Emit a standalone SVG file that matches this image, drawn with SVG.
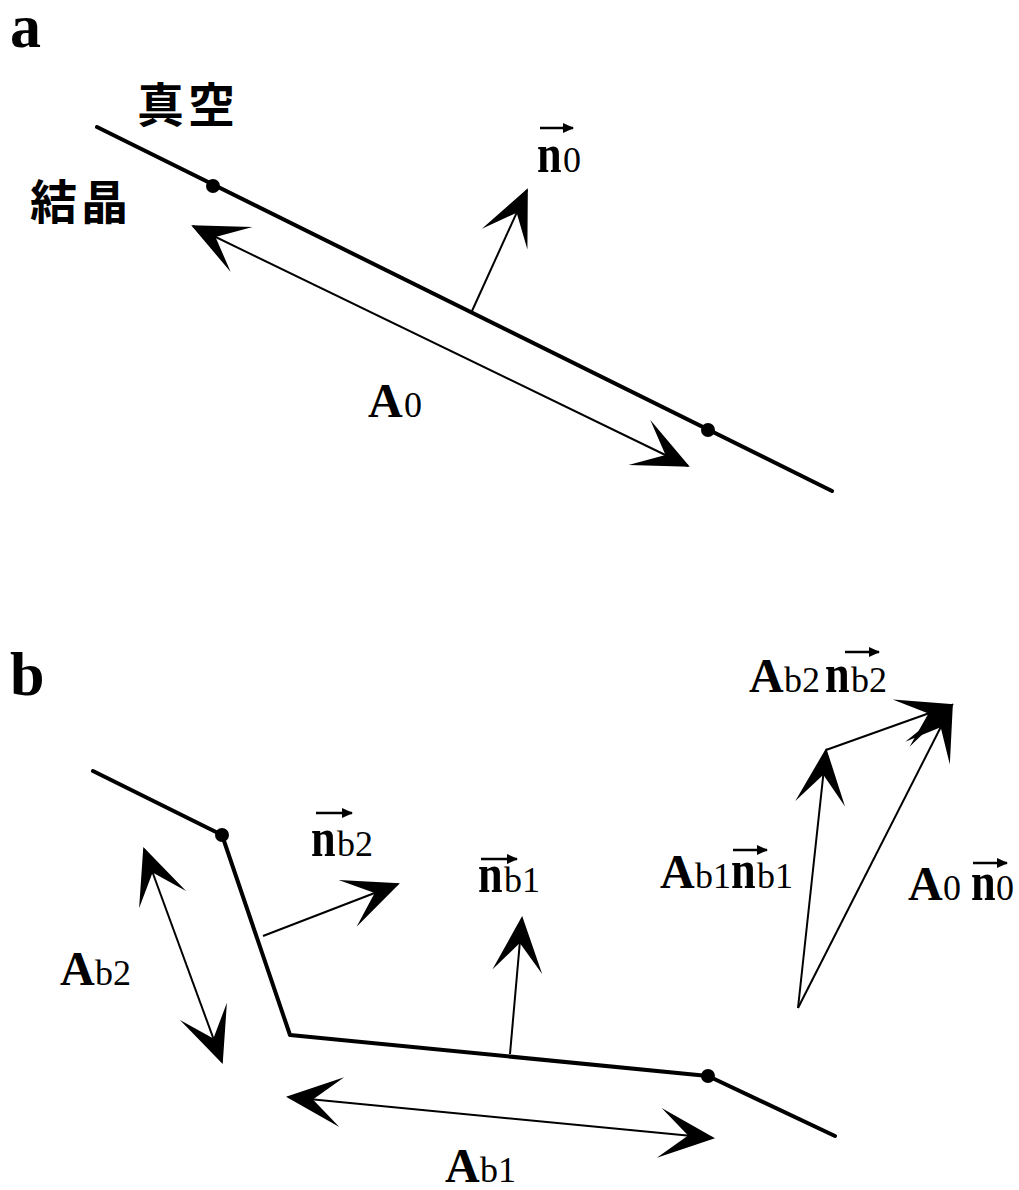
<svg xmlns="http://www.w3.org/2000/svg" width="1019" height="1190" viewBox="0 0 1019 1190">
<defs>
<style>
.bd{fill:none;stroke:#000;stroke-width:4;stroke-linecap:round;stroke-linejoin:round}
.sh{fill:none;stroke:#000;stroke-width:2}
.dot{fill:#000}
.pl{font-family:"Liberation Serif","Times New Roman",serif;font-weight:bold;font-size:62px;fill:#000}
.cjk{font-family:"Noto Sans CJK JP","Noto Sans CJK SC",sans-serif;font-weight:bold;font-size:47px;letter-spacing:4px;fill:#000}
.A{font-family:"Liberation Serif","Times New Roman",serif;font-weight:bold;font-size:48px;fill:#000}
.sub{font-family:"Liberation Serif","Times New Roman",serif;font-weight:normal;font-size:36px;fill:#000}
.n{font-family:"Liberation Serif","Times New Roman",serif;font-weight:bold;font-size:54px;fill:#000}
.va{fill:none;stroke:#000;stroke-width:2.5}
</style>
<marker id="ah" viewBox="-60 -30 70 60" refX="0" refY="0" markerWidth="70" markerHeight="60" markerUnits="userSpaceOnUse" orient="auto-start-reverse">
<path d="M2,0 L-54,-25 L-25,0 L-54,25 Z" fill="#000"/>
</marker>
<marker id="sm" viewBox="-12 -6 14 12" refX="0" refY="0" markerWidth="14" markerHeight="12" markerUnits="userSpaceOnUse" orient="auto">
<path d="M1,0 L-10,-5 L-10,5 Z" fill="#000"/>
</marker>
</defs>
<rect width="1019" height="1190" fill="#fff"/>

<g id="panel-labels">
<text class="pl" x="10" y="47">a</text>
<text class="pl" x="10" y="695">b</text>
</g>

<g id="boundaries">
<path class="bd" d="M97,127 L832,491"/>
<path class="bd" d="M93,771 L222,835 L290,1035 L708,1076 L835,1136"/>
<circle class="dot" cx="213" cy="186" r="7"/>
<circle class="dot" cx="708" cy="430" r="7"/>
<circle class="dot" cx="222" cy="835" r="7"/>
<circle class="dot" cx="708" cy="1076" r="7"/>
</g>

<g id="connectors">
<path class="sh" d="M472,311 L527,190" marker-end="url(#ah)"/>
<path class="sh" d="M193,226 L688,466" marker-start="url(#ah)" marker-end="url(#ah)"/>
<path class="sh" d="M263,936 L398,884" marker-end="url(#ah)"/>
<path class="sh" d="M510,1054 L522,918" marker-end="url(#ah)"/>
<path class="sh" d="M144,849 L222,1062" marker-start="url(#ah)" marker-end="url(#ah)"/>
<path class="sh" d="M288,1097 L713,1138" marker-start="url(#ah)" marker-end="url(#ah)"/>
<path class="sh" d="M798,1008 L826,750" marker-end="url(#ah)"/>
<path class="sh" d="M798,1008 L952,705" marker-end="url(#ah)"/>
<path class="sh" d="M826,750 L952,705" marker-end="url(#ah)"/>
</g>

<g id="vacuum"><text class="cjk" x="137" y="122">真空</text></g>
<g id="crystal"><text class="cjk" x="30" y="219">結晶</text></g>

<g id="label-n0">
<path class="va" d="M540,128 L573,128" marker-end="url(#sm)"/>
<text class="n" transform="translate(537,172) scale(0.82,1)">n</text>
<text class="sub" x="563" y="172">0</text>
</g>
<g id="label-A0">
<text class="A" x="368" y="417">A</text>
<text class="sub" x="404" y="417">0</text>
</g>

<g id="label-nb2">
<path class="va" d="M316,813 L352,813" marker-end="url(#sm)"/>
<text class="n" transform="translate(311,856) scale(0.82,1)">n</text>
<text class="sub" x="337" y="856">b2</text>
</g>
<g id="label-nb1">
<path class="va" d="M481,859 L517,859" marker-end="url(#sm)"/>
<text class="n" transform="translate(478,892) scale(0.82,1)">n</text>
<text class="sub" x="504" y="892">b1</text>
</g>
<g id="label-Ab2">
<text class="A" x="60" y="985">A</text>
<text class="sub" x="95" y="985">b2</text>
</g>
<g id="label-Ab1">
<text class="A" x="445" y="1182">A</text>
<text class="sub" x="480" y="1182">b1</text>
</g>

<g id="label-Ab2nb2">
<text class="A" x="749" y="692">A</text>
<text class="sub" x="784" y="692">b2</text>
<path class="va" d="M845,652 L879,652" marker-end="url(#sm)"/>
<text class="n" transform="translate(825,692) scale(0.82,1)">n</text>
<text class="sub" x="851" y="692">b2</text>
</g>
<g id="label-Ab1nb1">
<text class="A" x="660" y="888">A</text>
<text class="sub" x="695" y="888">b1</text>
<path class="va" d="M733,850 L767,850" marker-end="url(#sm)"/>
<text class="n" transform="translate(731,888) scale(0.82,1)">n</text>
<text class="sub" x="757" y="888">b1</text>
</g>
<g id="label-A0n0">
<text class="A" x="908" y="900">A</text>
<text class="sub" x="943" y="900">0</text>
<path class="va" d="M973,863 L1007,863" marker-end="url(#sm)"/>
<text class="n" transform="translate(971,900) scale(0.82,1)">n</text>
<text class="sub" x="996" y="900">0</text>
</g>
</svg>
